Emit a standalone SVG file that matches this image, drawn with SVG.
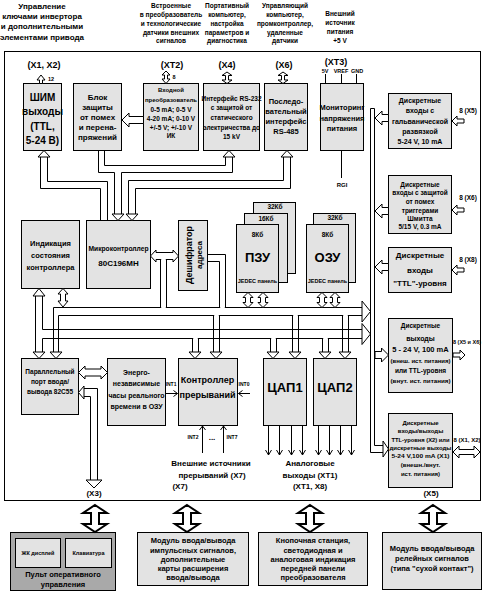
<svg xmlns="http://www.w3.org/2000/svg" width="485" height="591" viewBox="0 0 485 591">
<style>
text{font-family:"Liberation Sans",Arial,sans-serif;font-weight:bold;text-anchor:middle;fill:#000}
.b{fill:#e3e3e3;stroke:#000;stroke-width:1}
.d{fill:#a9a9a9;stroke:#000;stroke-width:1}
.w{fill:#fff;stroke:#000;stroke-width:1}
.l{fill:none;stroke:#000;stroke-width:1}
.e{fill:none;stroke:#fff;stroke-width:1.2}
.big{fill:#fff;stroke:#000;stroke-width:2}
.f5{font-size:5px}.f55{font-size:5.5px}.f6{font-size:6px}.f65{font-size:6.5px}.f7{font-size:7px}.f75{font-size:7.5px}.f8{font-size:8px}.f9{font-size:9px}.f10{font-size:10px}.f13{font-size:13px}
</style>
<rect width="485" height="591" fill="#fff"/>
<g id="headers">
<text class="f8" x="42" y="9">Управление</text>
<text class="f8" x="42" y="19">ключами инвертора</text>
<text class="f8" x="42" y="29">и дополнительными</text>
<text class="f8" x="42" y="40">элементами привода</text>
<text class="f65" x="171" y="8">Встроенные</text>
<text class="f65" x="171" y="17">в преобразователь</text>
<text class="f65" x="171" y="26">и технологические</text>
<text class="f65" x="171" y="35">датчики внешних</text>
<text class="f65" x="171" y="43">сигналов</text>
<text class="f65" x="227" y="8">Портативный</text>
<text class="f65" x="227" y="17">компьютер,</text>
<text class="f65" x="227" y="26">настройка</text>
<text class="f65" x="227" y="35">параметров и</text>
<text class="f65" x="227" y="43">диагностика</text>
<text class="f65" x="285" y="8">Управляющий</text>
<text class="f65" x="285" y="17">компьютер,</text>
<text class="f65" x="285" y="26">промконтроллер,</text>
<text class="f65" x="285" y="35">удаленные</text>
<text class="f65" x="285" y="43">датчики</text>
<text class="f65" x="340" y="16">Внешний</text>
<text class="f65" x="340" y="25">источник</text>
<text class="f65" x="340" y="34">питания</text>
<text class="f65" x="340" y="43">+5 V</text>
</g>
<rect id="frame" x="4.5" y="51.5" width="476" height="449" class="l"/>
<g id="labels">
<text class="f9" x="44" y="68">(X1, X2)</text>
<text class="f55" x="51" y="81">12</text>
<text class="f9" x="172" y="68">(XT2)</text>
<text class="f55" x="174" y="79">8</text>
<text class="f9" x="227" y="68">(X4)</text>
<text class="f9" x="284" y="68">(X6)</text>
<text class="f9" x="336" y="65">(XT3)</text>
<text class="f55" x="325" y="73">5V</text>
<text class="f55" x="341" y="73">VREF</text>
<text class="f55" x="357" y="73">GND</text>
<text class="f6" x="342" y="187">RGI</text>
<text class="f65" x="468" y="113">8 (X5)</text>
<text class="f65" x="468" y="200">8 (X6)</text>
<text class="f65" x="468" y="262">8 (X8)</text>
<text class="f6" x="467" y="344" textLength="28" lengthAdjust="spacingAndGlyphs">8 (X5 и X6)</text>
<text class="f6" x="467" y="442" textLength="27" lengthAdjust="spacingAndGlyphs">8 (X1, X2)</text>
<text class="f8" x="431" y="496">(X5)</text>
<text class="f8" x="94" y="496">(X3)</text>
<text class="f5" x="171" y="386">INT1</text>
<text class="f5" x="244" y="386">INT0</text>
<text class="f5" x="193" y="439">INT2</text>
<text class="f5" x="232" y="439">INT7</text>
<text class="f8" x="212" y="440">...</text>
<text class="f8" x="211" y="466">Внешние источники</text>
<text class="f8" x="212" y="478">прерываний (X7)</text>
<text class="f8" x="180" y="489">(X7)</text>
<text class="f8" x="310" y="466">Аналоговые</text>
<text class="f8" x="310" y="478">выходы (XT1)</text>
<text class="f8" x="310" y="489">(XT1, X8)</text>
</g>
<g id="n-shim"><rect class="b" x="23.5" y="83.5" width="38" height="67"/>
<text class="f10" x="42.5" y="101">ШИМ</text><text class="f10" x="42.5" y="115">выходы</text><text class="f10" x="42.5" y="130">(TTL,</text><text class="f10" x="42.5" y="144">5-24 В)</text></g>
<g id="n-zashita"><rect class="b" x="73.5" y="83.5" width="48" height="67"/>
<text class="f8" x="97.5" y="100">Блок</text><text class="f8" x="97.5" y="110">защиты</text><text class="f8" x="97.5" y="120">от помех</text><text class="f8" x="97.5" y="130">и перена-</text><text class="f8" x="97.5" y="140">пряжений</text></g>
<g id="n-conv"><rect class="b" x="143.5" y="83.5" width="55" height="67"/>
<text class="f6" x="171" y="92">Входной</text><text class="f6" x="171" y="102" textLength="52" lengthAdjust="spacingAndGlyphs">преобразователь</text><text class="f65" x="171" y="112">0-5 mA; 0-5 V</text><text class="f65" x="171" y="121">4-20 mA; 0-10 V</text><text class="f65" x="171" y="130">+/-5 V; +/-10 V</text><text class="f65" x="171" y="138">ИК</text></g>
<g id="n-rs232"><rect class="b" x="203.5" y="83.5" width="56" height="67"/>
<text class="f65" x="231.5" y="101">Интерфейс RS-232</text><text class="f65" x="231.5" y="110">с защитой от</text><text class="f65" x="231.5" y="120">статического</text><text class="f65" x="231.5" y="130">электричества до</text><text class="f65" x="231.5" y="139">15 kV</text></g>
<g id="n-rs485"><rect class="b" x="264.5" y="83.5" width="43" height="67"/>
<text class="f75" x="286" y="104">Последо-</text><text class="f75" x="286" y="114">вательный</text><text class="f75" x="286" y="124">интерфейс</text><text class="f75" x="286" y="134">RS-485</text></g>
<g id="n-monitor"><rect class="b" x="320.5" y="83.5" width="43" height="67"/>
<text class="f75" x="342" y="110">Мониторинг</text><text class="f75" x="342" y="121">напряжения</text><text class="f75" x="342" y="131">питания</text></g>
<g id="n-din1"><rect class="b" x="388.5" y="93.5" width="63" height="55"/>
<text class="f7" x="420" y="103">Дискретные</text><text class="f7" x="420" y="113">входы с</text><text class="f7" x="420" y="124">гальванической</text><text class="f7" x="420" y="134">развязкой</text><text class="f7" x="420" y="144">5-24 V, 10 mA</text></g>
<g id="n-din2"><rect class="b" x="388.5" y="175.5" width="63" height="58"/>
<text class="f65" x="420" y="187">Дискретные</text><text class="f65" x="420" y="195">входы с защитой</text><text class="f65" x="420" y="204">от помех</text><text class="f65" x="420" y="213">триггерами</text><text class="f65" x="420" y="221">Шмитта</text><text class="f65" x="420" y="229">5/15 V, 0.3 mA</text></g>
<g id="n-din3"><rect class="b" x="388.5" y="247.5" width="63" height="45"/>
<text class="f8" x="420" y="258">Дискретные</text><text class="f8" x="420" y="273">входы</text><text class="f8" x="420" y="286">"TTL"-уровня</text></g>
<g id="n-dout"><rect class="b" x="388.5" y="318.5" width="64" height="74"/>
<text class="f65" x="420.5" y="328">Дискретные</text><text class="f7" x="420.5" y="341">выходы</text><text class="f75" x="420.5" y="352">5 - 24 V, 100 mA</text><text class="f6" x="420.5" y="363" textLength="60" lengthAdjust="spacingAndGlyphs">(внеш. ист. питания)</text><text class="f65" x="420.5" y="373">или TTL-уровня</text><text class="f6" x="420.5" y="383" textLength="60" lengthAdjust="spacingAndGlyphs">(внут. ист. питания)</text></g>
<g id="n-dio"><rect class="b" x="388.5" y="413.5" width="64" height="74"/>
<text class="f6" x="420.5" y="425">Дискретные</text><text class="f6" x="420.5" y="433">входы/выходы</text><text class="f6" x="420.5" y="442" textLength="58" lengthAdjust="spacingAndGlyphs">TTL-уровня (X2) или</text><text class="f6" x="420.5" y="450">дискретные выходы</text><text class="f6" x="420.5" y="458" textLength="58" lengthAdjust="spacingAndGlyphs">5-24 V,100 mA (X1)</text><text class="f6" x="420.5" y="467">(внешн./внут.</text><text class="f6" x="420.5" y="476">ист. питания)</text></g>
<g id="n-ind"><rect class="b" x="21.5" y="220.5" width="58" height="68"/>
<text class="f75" x="50.5" y="246">Индикация</text><text class="f75" x="50.5" y="258">состояния</text><text class="f75" x="50.5" y="270">контроллера</text></g>
<g id="n-mcu"><rect class="b" x="86.5" y="220.5" width="64" height="68"/>
<text class="f8" x="118.5" y="251" textLength="60" lengthAdjust="spacingAndGlyphs">Микроконтроллер</text><text class="f8" x="118.5" y="266">80C196MH</text></g>
<g id="n-dec"><rect class="b" x="178.5" y="220.5" width="29" height="70"/>
<text class="f9" transform="translate(191.5,255) rotate(-90)">Дешифратор</text><text class="f8" transform="translate(201.5,255) rotate(-90)">адреса</text></g>
<g id="n-rom"><rect class="b" x="253.5" y="202.5" width="42" height="71"/><rect class="b" x="244.5" y="213.5" width="43" height="69"/><rect class="b" x="236.5" y="224.5" width="42" height="68"/>
<text class="f65" x="275" y="209">32Кб</text><text class="f65" x="266" y="221">16Кб</text><text class="f65" x="257.5" y="237">8Кб</text><text class="f13" x="257.5" y="262">ПЗУ</text><text class="f55" x="257.5" y="283">JEDEC панель</text></g>
<g id="n-ram"><rect class="b" x="313.5" y="213.5" width="42" height="69"/><rect class="b" x="306.5" y="224.5" width="42" height="68"/>
<text class="f65" x="335" y="220">32Кб</text><text class="f65" x="327.5" y="237">8Кб</text><text class="f13" x="327.5" y="262">ОЗУ</text><text class="f55" x="327.5" y="283">JEDEC панель</text></g>
<g id="n-pport"><rect class="b" x="21.5" y="358.5" width="57" height="56"/>
<text class="f65" x="50" y="374">Параллельный</text><text class="f65" x="50" y="384">порт ввода/</text><text class="f65" x="50" y="394">вывода 82C55</text></g>
<g id="n-rtc"><rect class="b" x="107.5" y="358.5" width="58" height="67"/>
<text class="f7" x="136.5" y="375">Энерго-</text><text class="f7" x="136.5" y="386">независимые</text><text class="f7" x="136.5" y="398">часы реального</text><text class="f7" x="136.5" y="409">времени в ОЗУ</text></g>
<g id="n-pic"><rect class="b" x="178.5" y="358.5" width="59" height="67"/>
<text class="f9" x="207.5" y="383">Контроллер</text><text class="f9" x="207.5" y="398">прерываний</text></g>
<g id="n-dac1"><rect class="b" x="263.5" y="358.5" width="43" height="67"/><text class="f13" x="285" y="392">ЦАП1</text></g>
<g id="n-dac2"><rect class="b" x="313.5" y="358.5" width="43" height="67"/><text class="f13" x="335" y="392">ЦАП2</text></g>
<g id="n-pult"><rect class="d" x="10.5" y="532.5" width="105" height="58"/>
<rect class="b" x="15.5" y="538.5" width="45" height="29"/><rect class="b" x="65.5" y="538.5" width="46" height="29"/>
<text class="f55" x="38" y="555">ЖК дисплей</text><text class="f55" x="88.5" y="555">Клавиатура</text>
<text class="f75" x="63" y="577">Пульт оперативного</text><text class="f75" x="63" y="587">управления</text></g>
<g id="n-mod1"><rect class="b" x="137.5" y="532.5" width="111" height="53"/>
<text class="f75" x="193" y="543">Модуль ввода/вывода</text><text class="f75" x="193" y="553">импульсных сигналов,</text><text class="f75" x="193" y="562">дополнительные</text><text class="f75" x="193" y="571">карты расширения</text><text class="f75" x="193" y="580">ввода/вывода</text></g>
<g id="n-mod2"><rect class="b" x="258.5" y="532.5" width="109" height="53"/>
<text class="f75" x="313" y="543">Кнопочная станция,</text><text class="f75" x="313" y="553">светодиодная и</text><text class="f75" x="313" y="562">аналоговая индикация</text><text class="f75" x="313" y="571">передней панели</text><text class="f75" x="313" y="580">преобразователя</text></g>
<g id="n-mod3"><rect class="b" x="382.5" y="532.5" width="99" height="57"/>
<text class="f75" x="432" y="551">Модуль ввода/вывода</text><text class="f75" x="432" y="561">релейных сигналов</text><text class="f75" x="432" y="571">(типа "сухой контакт")</text></g>
<g id="connectors">
<polygon class="w" points="41,75 45,80 42.5,80 42.5,83.5 39.5,83.5 39.5,80 37,80"/>
<polygon class="w" points="166,71 170,75 167.5,75 167.5,79 170,79 166,83.5 162,79 164.5,79 164.5,75 162,75"/>
<polygon class="w" points="227,72 232,75.5 228.5,75.5 228.5,80 232,80 227,83.5 222,80 225.5,80 225.5,75.5 222,75.5"/>
<polygon class="w" points="283,72 288,75.5 284.5,75.5 284.5,80 288,80 283,83.5 278,80 281.5,80 281.5,75.5 278,75.5"/>
<path class="l" d="M325.5,74V83.5M341.5,74V83.5M356.5,74V83.5M341.5,150.5V178"/>
<polygon class="w" points="122,120 129,113 129,116.5 143.5,116.5 143.5,123.5 129,123.5 129,127"/>
<path class="l" d="M40.5,157V188.5H100.5V220.5M47.5,157V181.5H107.5V220.5"/>
<polygon class="w" points="44,150.5 50,157 38,157"/>
<path class="l" d="M104.5,150.5V165.5H225.5V157M98.5,150.5V172.5H114.5V214M121.5,214V172.5H232.5V157"/>
<polygon class="w" points="229,150.5 235,157 223,157"/>
<polygon class="w" points="112,214 124,214 118,220.5"/>
<path class="l" d="M283.5,157V180.5H128.5V214M290.5,157V188.5H135.5V214"/>
<polygon class="w" points="287,150.5 293,157 281,157"/>
<polygon class="w" points="126,214 138,214 132,220.5"/>
<polygon class="w" points="150.5,256 156,250 156,252.5 173,252.5 173,250 178.5,256 173,262 173,259.5 156,259.5 156,262"/>
<path class="e" d="M161.2,259.5H165.8"/>
<path class="l" d="M160.5,259.5V307.5M166.5,259.5V307.5"/>
<path class="l" d="M207.5,254.5H225.5V307.5M207.5,261.5H219.5V307.5"/>
<path class="l" d="M53.5,307.5H362M58.5,315.5H362M42.5,329.5H362M42.5,338.5H362"/>
<path class="e" d="M161.2,307.5H165.8M220.2,307.5H224.8M214.2,315.5H218.8M193.2,338.5H197.8M293.2,315.5H297.8M271.2,338.5H275.8M343.2,315.5H347.8M323.2,338.5H327.8"/>
<polygon class="w" points="362,301 370.5,311.5 362,322"/>
<polygon class="w" points="362,323.5 370.5,334 362,344.5"/>
<path class="l" d="M370.5,108.5V452.5H383M374.5,108.5V445.5H383M370.5,108.5H374.5"/>
<polygon class="w" points="383,441 388.5,449 383,457"/>
<polygon class="w" points="375,118 382,111 382,114.5 388.5,114.5 388.5,121.5 382,121.5 382,125"/>
<polygon class="w" points="375,211 382,204 382,207.5 388.5,207.5 388.5,214.5 382,214.5 382,218"/>
<polygon class="w" points="375,267 382,260 382,263.5 388.5,263.5 388.5,270.5 382,270.5 382,274"/>
<polygon class="w" points="388.5,355 381.5,348 381.5,351.5 375,351.5 375,358.5 381.5,358.5 381.5,362"/>
<polygon class="w" points="452,121 457,116 457,119 464,119 464,123 457,123 457,126"/>
<polygon class="w" points="452,210 457,205 457,208 464,208 464,212 457,212 457,215"/>
<polygon class="w" points="452,270 457,265 457,268 464,268 464,272 457,272 457,275"/>
<polygon class="w" points="465,355 460,350 460,353 453,353 453,357 460,357 460,360"/>
<polygon class="w" points="453,452 459,446 459,449.5 474,449.5 474,446 480,452 474,458 474,454.5 459,454.5 459,458"/>
<polygon class="w" points="248,292.5 253,297.5 250.5,297.5 250.5,302.5 253,302.5 248,307.5 243,302.5 245.5,302.5 245.5,297.5 243,297.5"/>
<polygon class="w" points="263,292.5 268,297.5 265.5,297.5 265.5,302.5 268,302.5 263,307.5 258,302.5 260.5,302.5 260.5,297.5 258,297.5"/>
<polygon class="w" points="322,292.5 327,297.5 324.5,297.5 324.5,302.5 327,302.5 322,307.5 317,302.5 319.5,302.5 319.5,297.5 317,297.5"/>
<polygon class="w" points="335,292.5 340,297.5 337.5,297.5 337.5,302.5 340,302.5 335,307.5 330,302.5 332.5,302.5 332.5,297.5 330,297.5"/>
<path class="l" d="M35.5,296V352M42.5,296V329.5M42.5,338.5V352"/>
<polygon class="w" points="39,288.5 45,296 33,296"/>
<polygon class="w" points="33,352 45,352 39,358.5"/>
<polygon class="w" points="63,288.5 68,294 65.5,294 65.5,301 68,301 63,307 58,301 60.5,301 60.5,294 58,294"/>
<path class="l" d="M53.5,307.5V352M58.5,315.5V352"/>
<polygon class="w" points="50,352 62,352 56,358.5"/>
<path class="l" d="M192.5,338.5V352M198.5,338.5V352M213.5,315.5V352M219.5,315.5V352M270.5,338.5V352M276.5,338.5V352M292.5,315.5V352M298.5,315.5V352M322.5,338.5V352M328.5,338.5V352M342.5,315.5V352M348.5,315.5V352"/>
<polygon class="w" points="189,352 201,352 195,358.5"/>
<polygon class="w" points="210,352 222,352 216,358.5"/>
<polygon class="w" points="267,352 279,352 273,358.5"/>
<polygon class="w" points="289,352 301,352 295,358.5"/>
<polygon class="w" points="319,352 331,352 325,358.5"/>
<polygon class="w" points="339,352 351,352 345,358.5"/>
<polygon class="w" points="78.5,372.5 85,366 85,369 101,369 101,366 107.5,372.5 101,379 101,376 85,376 85,379"/>
<path class="l" d="M84,388.5H97.5V480M84,396.5H90.5V480"/>
<polygon class="w" points="78.5,392.5 84,386 84,399"/>
<polygon class="w" points="86,480 102,480 94,488"/>
<path class="l" d="M165.5,393.5H177.5M173.5,390.5L177.5,393.5L173.5,396.5M250,393.5H238.5M242.5,390.5L238.5,393.5L242.5,396.5"/>
<path class="l" d="M202.5,426V453M223.5,426V453M199.5,430L202.5,426L205.5,430M220.5,430L223.5,426L226.5,430"/>
<path class="l" d="M268.5,425.5V455M279.5,425.5V455M291.5,425.5V455M302.5,425.5V455M318.5,425.5V455M329.5,425.5V455M340.5,425.5V455M351.5,425.5V455M265.5,450L268.5,455L271.5,450M276.5,450L279.5,455L282.5,450M288.5,450L291.5,455L294.5,450M299.5,450L302.5,455L305.5,450M315.5,450L318.5,455L321.5,450M326.5,450L329.5,455L332.5,450M337.5,450L340.5,455L343.5,450M348.5,450L351.5,455L354.5,450"/>
<polygon class="big" points="95,505 107,513 99,513 99,524 107,524 95,532 83,524 91,524 91,513 83,513"/>
<polygon class="big" points="187,505 199,513 191,513 191,524 199,524 187,532 175,524 183,524 183,513 175,513"/>
<polygon class="big" points="310,505 322,513 314,513 314,524 322,524 310,532 298,524 306,524 306,513 298,513"/>
<polygon class="big" points="433,505 445,513 437,513 437,524 445,524 433,532 421,524 429,524 429,513 421,513"/>
</g>
</svg>
